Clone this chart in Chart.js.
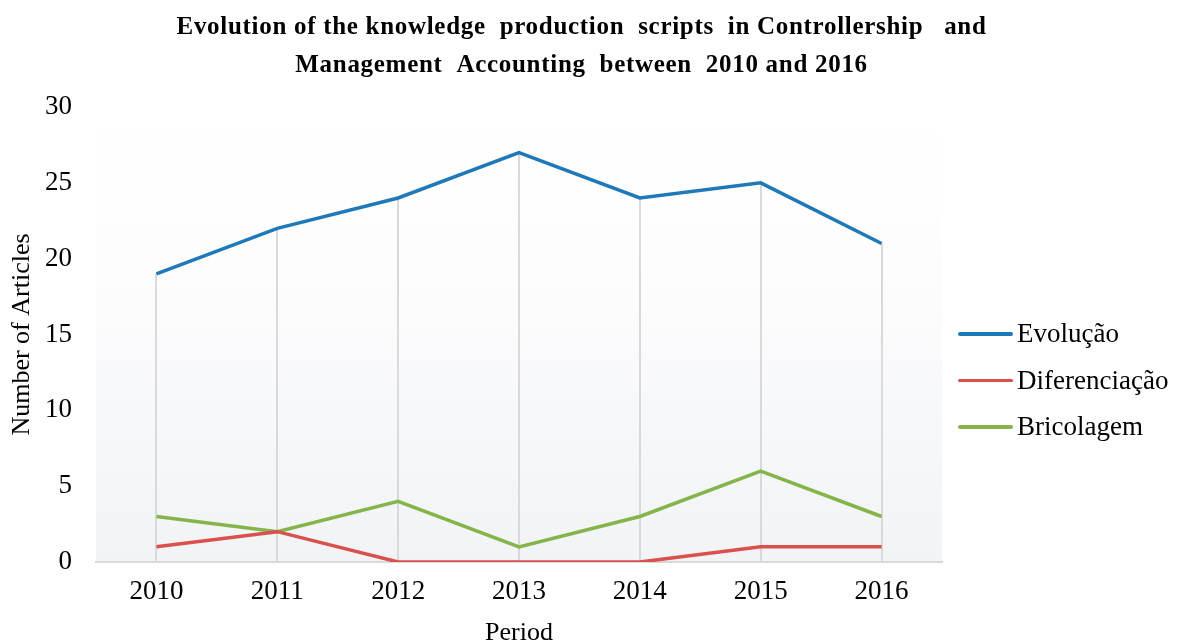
<!DOCTYPE html>
<html>
<head>
<meta charset="utf-8">
<script src="https://cdn.jsdelivr.net/npm/chart.js@4"></script>
<style>
  html, body { margin: 0; padding: 0; background: #fff; }
  #wrap { position: relative; width: 1177px; height: 644px; }
  #legend { position: absolute; left: 958px; top: 315px; font-family: "Liberation Serif", serif; font-size: 27px; color: #000; }
  #legend div { height: 46.5px; line-height: 36px; white-space: nowrap; }
  #legend span.sw { display: inline-block; width: 55px; height: 3.5px; border-radius: 2px; vertical-align: middle; margin-right: 4px; position: relative; top: -2px; }
</style>
</head>
<body>
<div id="wrap">
  <canvas id="chart" width="1177" height="644"></canvas>
  <div id="legend"></div>
</div>
<script>
const years         = ["2010", "2011", "2012", "2013", "2014", "2015", "2016"];
const evolucao      = [19, 22, 24, 27, 24, 25, 21];
const diferenciacao = [1, 2, 0, 0, 0, 1, 1];
const bricolagem    = [3, 2, 4, 1, 3, 6, 3];
const yTicks        = [0, 5, 10, 15, 20, 25, 30];

const SERIF = "'Liberation Serif', 'Times New Roman', serif";
const series = [
  { label: "Evolução",      data: evolucao,      color: "#1f78b8" },
  { label: "Diferenciação", data: diferenciacao, color: "#d9504c" },
  { label: "Bricolagem",    data: bricolagem,    color: "#85b44b" },
];

// plot background: white at top fading to a light grey
const plotBg = {
  id: "plotBg",
  beforeDraw(chart) {
    const { ctx, chartArea: a } = chart;
    const g = ctx.createLinearGradient(0, a.top, 0, a.bottom);
    g.addColorStop(0, "#ffffff");
    g.addColorStop(0.35, "#fdfdfe");
    g.addColorStop(1, "#f1f3f5");
    ctx.save();
    ctx.fillStyle = g;
    ctx.fillRect(a.left, a.top, a.right - a.left, a.bottom - a.top);
    ctx.restore();
  }
};

// the title in the picture is slightly tracked out
const titleTracking = {
  id: "titleTracking",
  beforeDraw(chart) {
    const tb = chart.titleBlock;
    if (!tb || tb._tracked) return;
    const draw = tb.draw;
    tb.draw = function (...args) {
      this.ctx.save();
      this.ctx.letterSpacing = "0.7px";
      draw.apply(this, args);
      this.ctx.restore();
    };
    tb._tracked = true;
  }
};

// drop lines from the highest series down to the axis
const dropLines = {
  id: "dropLines",
  beforeDatasetsDraw(chart) {
    const { ctx, scales: { x, y } } = chart;
    ctx.save();
    ctx.strokeStyle = "#d9d9d9";
    ctx.lineWidth = 2;
    years.forEach((_, i) => {
      const top = Math.max(...series.map(s => s.data[i]));
      const px = Math.round(x.getPixelForValue(i));
      ctx.beginPath();
      ctx.moveTo(px, y.getPixelForValue(top));
      ctx.lineTo(px, y.getPixelForValue(0));
      ctx.stroke();
    });
    ctx.restore();
  }
};

new Chart(document.getElementById("chart"), {
  type: "line",
  data: {
    labels: years,
    datasets: series.map(s => ({
      label: s.label,
      data: s.data,
      borderColor: s.color,
      backgroundColor: s.color,
      borderWidth: 3.5,
      pointRadius: 0,
      tension: 0,
      fill: false,
    })),
  },
  options: {
    responsive: false,
    animation: false,
    devicePixelRatio: 1,
    plugins: {
      legend: { display: false },
      tooltip: { enabled: false },
      title: {
        display: true,
        text: [
          "Evolution of the knowledge  production  scripts  in Controllership   and  ",
          "Management  Accounting  between  2010 and 2016  ",
        ],
        color: "#000",
        font: { family: SERIF, size: 25, weight: "bold", lineHeight: 1.52 },
        padding: { top: 9, bottom: 22 },
      },
    },
    scales: {
      x: {
        offset: true,
        grid: { display: false, drawTicks: false },
        border: { display: true, color: "#d9d9d9", width: 2 },
        ticks: { color: "#000", font: { family: SERIF, size: 27 }, padding: 14, maxRotation: 0 },
        title: { display: true, text: "Period", color: "#000", font: { family: SERIF, size: 26, lineHeight: 0.8 }, padding: 0 },
        afterFit: s => { s.height = 82; },
      },
      y: {
        min: 0,
        max: 30,
        afterBuildTicks: s => { s.ticks = yTicks.map(v => ({ value: v })); },
        grid: { display: false, drawTicks: false },
        border: { display: false },
        ticks: { color: "#000", font: { family: SERIF, size: 27 }, padding: 24 },
        title: { display: true, text: "Number of Articles", color: "#000", font: { family: SERIF, size: 26, lineHeight: 1 }, padding: { top: 9 } },
        afterFit: s => { s.width = 96; },
      },
      // empty strip on the right that holds the legend
      legendSpace: {
        type: "linear",
        position: "right",
        grid: { display: false, drawTicks: false },
        border: { display: false },
        ticks: { display: false },
        afterFit: s => { s.width = 235; },
      },
    },
  },
  plugins: [plotBg, titleTracking, dropLines],
});

document.getElementById("legend").innerHTML = series.map(s =>
  `<div><span class="sw" style="background:${s.color}"></span>${s.label}</div>`
).join("");
</script>
</body>
</html>
